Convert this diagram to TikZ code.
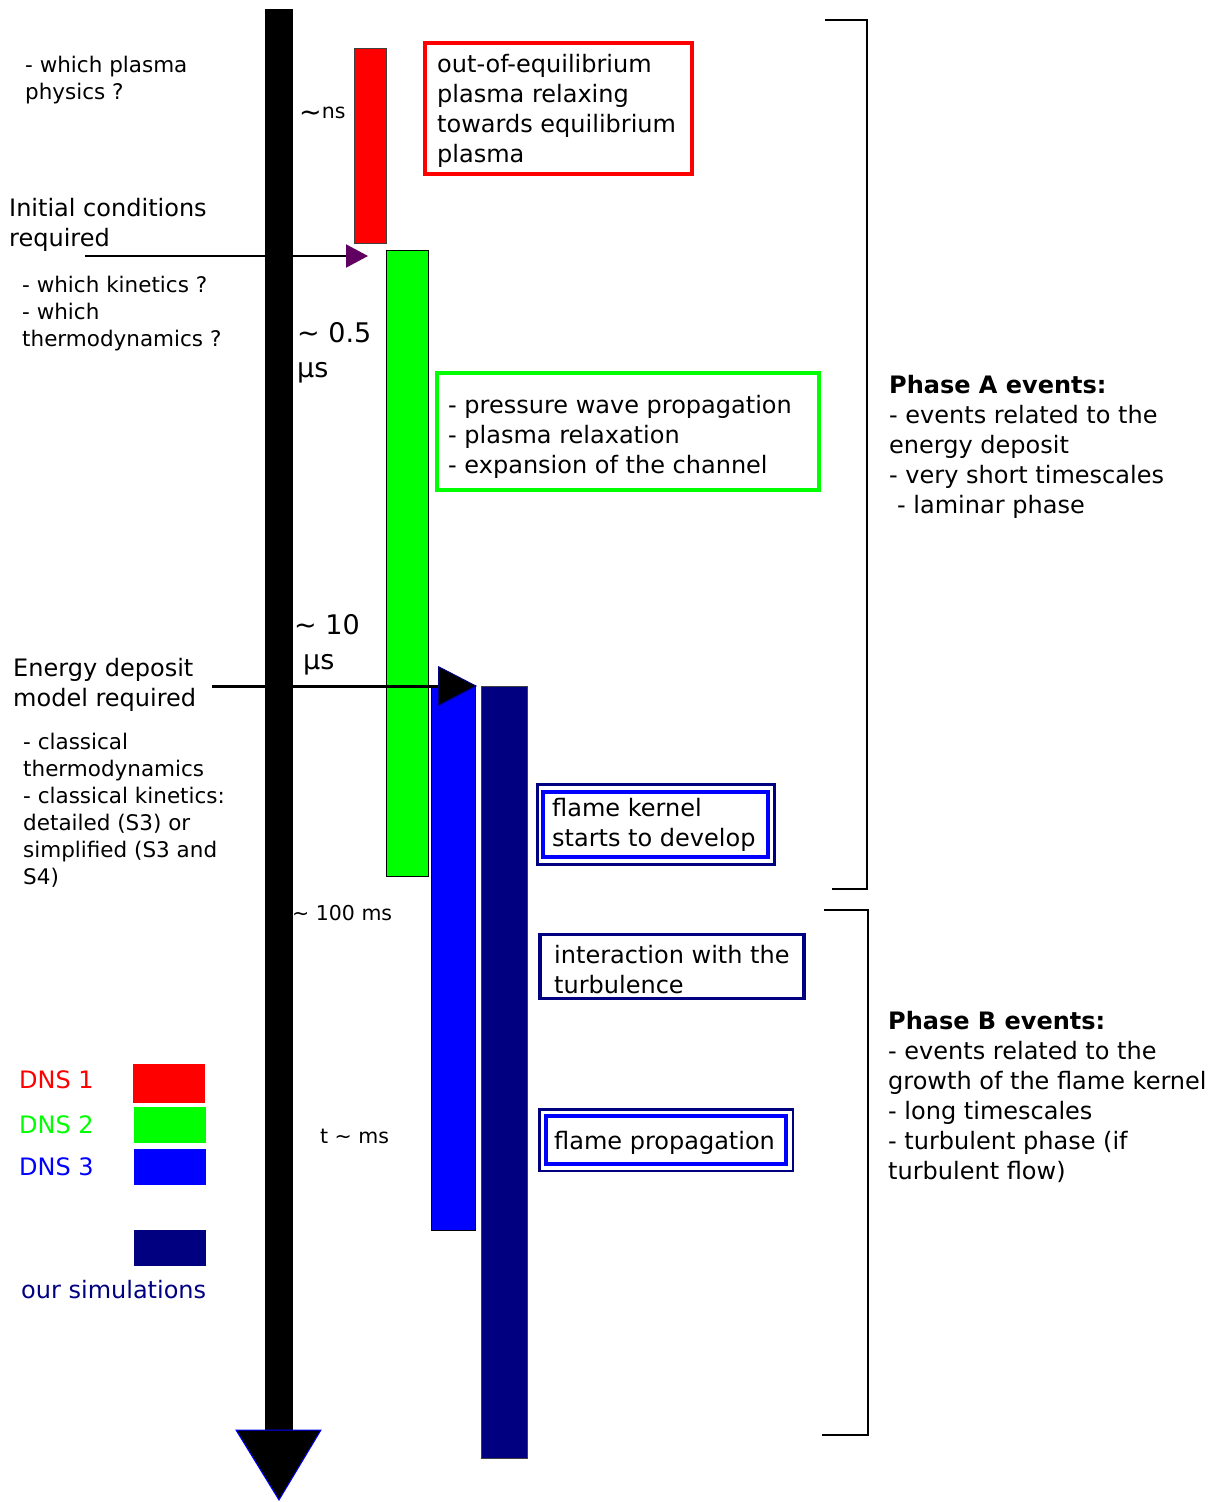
\documentclass[tikz,border=0pt]{standalone}
\usepackage{fontspec}
\setmainfont{DejaVu Sans}
\usetikzlibrary{arrows.meta}
\definecolor{navyb}{RGB}{0,0,128}
\definecolor{tipviolet}{RGB}{96,0,96}

\begin{document}
\begin{tikzpicture}[x=1pt, y=-1pt,
    txt/.style={anchor=base west, inner sep=0pt, align=left, font=\fontsize{24}{30}\selectfont},
    sm/.style={txt, font=\fontsize{21.5}{27}\selectfont},
    tick/.style={txt, font=\fontsize{20.5}{26}\selectfont},
    big/.style={txt, font=\fontsize{27}{35}\selectfont},
    bar/.style={draw=black!75, line width=1.3pt, anchor=north west, inner sep=0pt},
    swatch/.style={anchor=north west, inner sep=0pt, minimum width=72pt, minimum height=36pt},
    frame/.style={line width=3.5pt},
    brk/.style={line width=2pt},
    ar/.style={line width=2pt}]
  \useasboundingbox (0,0) rectangle (1218,1502);
  % time axis
  \fill[black] (265,9) rectangle (293,1431);
  \filldraw[fill=black, draw=blue, line width=1pt] (236,1430) -- (321,1430) -- (279,1500) -- cycle;

  % simulation bars
  \node[bar, fill=red, minimum width=32pt, minimum height=195pt] (dns1) at (354,48) {};
  \node[bar, fill=green, draw=black, minimum width=42pt, minimum height=626pt] (dns2) at (386,250) {};
  \node[bar, fill=blue, draw=black, minimum width=44pt, minimum height=545pt] (dns3) at (431,685) {};
  \node[bar, fill=navyb, minimum width=46pt, minimum height=772pt] (ours) at (481,686) {};

  % arrows
  \coordinate (ic-from) at (85,256);
  \coordinate (ic-to) at (368,256);
  \coordinate (ed-from) at (212,686);
  \coordinate (ed-to) at (477,686);
  \draw[ar, -{Triangle[length=22pt, width=23pt, color=tipviolet, fill=tipviolet]}] (ic-from) -- (ic-to);
  \draw[ar, line width=3pt, -{Triangle[length=39pt, width=40pt, color=navyb, fill=black, line width=1pt]}] (ed-from) -- (ed-to);

  % event frames
  \draw[frame, red] (425,43) rectangle (692,174);
  \draw[frame, green] (437,373) rectangle (819,490);
  \draw[frame, navyb, line width=3pt] (537.5,784) rectangle (774,864);
  \draw[frame, blue, line width=4pt] (543,792) rectangle (767.5,857);
  \draw[frame, navyb] (540,934.5) rectangle (804,998.5);
  \draw[frame, navyb, line width=2.5pt] (539.5,1109.5) rectangle (793,1171);
  \draw[frame, blue] (546,1116) rectangle (786,1164);

  \node[txt] (relax) at (437,162) {out-of-equilibrium\\plasma relaxing\\towards equilibrium\\plasma};
  \node[txt] (wave) at (448,473) {- pressure wave propagation\\- plasma relaxation\\- expansion of the channel};
  \node[txt] (kernel) at (552,846) {flame kernel\\starts to develop};
  \node[txt] (turb) at (554,993) {interaction with the\\turbulence};
  \node[txt] (prop) at (554,1149) {flame propagation};

  % time labels
  \node[tick] (t-ns) at (299,118) {\raisebox{-3pt}{\fontsize{27}{27}\selectfont ∼}ns};
  \node[big] (t-half) at (297,377) {\textasciitilde{} 0.5\\µs};
  \node[big] (t-ten) at (294,634) {\textasciitilde{} 10};
  \node[big] (t-ten-u) at (303,669) {µs};
  \node[tick] (t-hund) at (292,920) {\textasciitilde{} 100 ms};
  \node[tick] (t-ms) at (320,1143) {t \textasciitilde{} ms};

  % modelling questions
  \node[sm] (q-plasma) at (25,99) {- which plasma\\physics ?};
  \node[txt] (q-init) at (9,246) {Initial conditions\\required};
  \node[sm] (q-kin) at (22,346) {- which kinetics ?\\- which\\thermodynamics ?};
  \node[txt] (q-energy) at (13,706) {Energy deposit\\model required};
  \node[sm] (q-class) at (23,884) {- classical\\thermodynamics\\- classical kinetics:\\detailed (S3) or\\simplified (S3 and\\S4)};

  % phases
  \draw[brk] (825,20) -- (867,20) -- (867,889) -- (832,889);
  \draw[brk] (824,910) -- (868,910) -- (868,1435) -- (822,1435);
  \node[txt] (phase-a) at (889,513) {\textbf{Phase A events:}\\- events related to the\\energy deposit\\- very short timescales\\\hspace*{8pt}- laminar phase};
  \node[txt] (phase-b) at (888,1179) {\textbf{Phase B events:}\\- events related to the\\growth of the flame kernel\\- long timescales\\- turbulent phase (if\\turbulent flow)};

  % legend
  \node[swatch, fill=red, minimum height=39pt] (key1) at (133,1064) {};
  \node[swatch, fill=green] (key2) at (134,1107) {};
  \node[swatch, fill=blue] (key3) at (134,1149) {};
  \node[swatch, fill=navyb] (key4) at (134,1230) {};
  \node[txt, red] (lab1) at (19,1088) {DNS 1};
  \node[txt, green] (lab2) at (19,1133) {DNS 2};
  \node[txt, blue] (lab3) at (19,1175) {DNS 3};
  \node[txt, navyb] (lab4) at (21,1298) {our simulations};
\end{tikzpicture}
\end{document}
